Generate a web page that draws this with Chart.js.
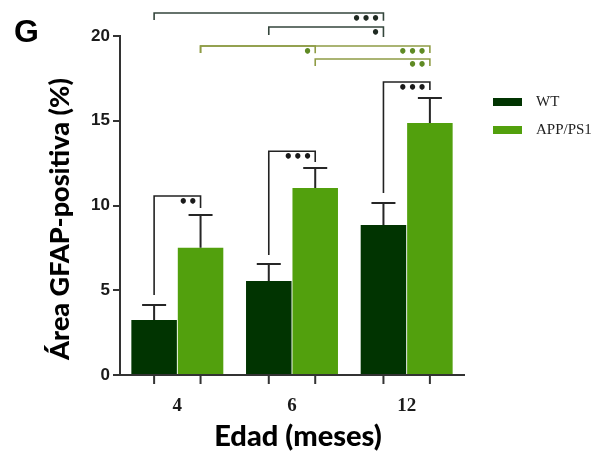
<!DOCTYPE html>
<html>
<head>
<meta charset="utf-8">
<script src="https://cdn.jsdelivr.net/npm/chart.js@4/dist/chart.umd.min.js"></script>
<style>
  html, body { margin: 0; padding: 0; background: #fff; }
  #wrap { width: 604px; height: 454px; position: relative; }
</style>
</head>
<body>
<div id="wrap"><canvas id="c" width="604" height="454"></canvas></div>
<script>
// Age groups (months)
const categories = ['4', '6', '12'];
const seriesNames = ['WT', 'APP/PS1'];
// GFAP-positive area (%), mean and SEM
const wtMean  = [3.24, 5.55, 8.85];
const wtSem   = [0.89, 1.00, 1.30];
const appMean = [7.51, 11.03, 14.87];
const appSem  = [1.93, 1.18, 1.47];
const yTicks  = [0, 5, 10, 15, 20];

// Significance comparisons: [dataset, index] pairs, bracket height and leg ends (data units)
const comparisons = [
  { a: [0, 0], b: [1, 0], y: 10.56, aEnd: 4.72,  bEnd: 9.85,  label: '••',  line: '#222', star: '#1a1a1a' },
  { a: [0, 1], b: [1, 1], y: 13.2,  aEnd: 7.08,  bEnd: 12.56, label: '•••', line: '#222', star: '#1a1a1a' },
  { a: [0, 2], b: [1, 2], y: 17.29, aEnd: 10.74, bEnd: 16.81, label: '•••', line: '#222', star: '#1a1a1a' },
  { a: [0, 0], b: [0, 2], y: 21.36, aEnd: 20.94, bEnd: 20.9,  label: '•••', line: '#34463c', star: '#1f2a22' },
  { a: [0, 1], b: [0, 2], y: 20.53, aEnd: 20.06, bEnd: 19.94, label: '•',   line: '#34463c', star: '#1f2a22' },
  { a: [1, 0], b: [1, 2], y: 19.41, aEnd: 19.0,  bEnd: 19.0,  label: '•••', line: '#8f9c45', star: '#5f8a24' },
  { a: [1, 0], b: [1, 1], y: 19.41, aEnd: 19.0,  bEnd: 18.98, label: '•',   line: '#8f9c45', star: '#5f8a24' },
  { a: [1, 1], b: [1, 2], y: 18.64, aEnd: 18.23, bEnd: 18.23, label: '••',  line: '#8f9c45', star: '#5f8a24' }
];

const barColors = ['#013401', '#52a00d'];
const means = [wtMean, appMean];
const sems = [wtSem, appSem];

const overlay = {
  id: 'overlay',
  afterDatasetsDraw(chart) {
    const ctx = chart.ctx;
    const ys = chart.scales.y;
    const area = chart.chartArea;
    ctx.save();

    // Error bars (upper whisker with cap)
    ctx.strokeStyle = '#262626';
    ctx.lineWidth = 2;
    means.forEach((m, di) => {
      const meta = chart.getDatasetMeta(di);
      meta.data.forEach((bar, i) => {
        const top = ys.getPixelForValue(m[i] + sems[di][i]);
        ctx.beginPath();
        ctx.moveTo(bar.x, bar.y);
        ctx.lineTo(bar.x, top);
        ctx.moveTo(bar.x - 12, top);
        ctx.lineTo(bar.x + 12, top);
        ctx.stroke();
      });
    });

    // Tick marks under each bar
    ctx.strokeStyle = '#333';
    ctx.lineWidth = 2;
    [0, 1].forEach(di => {
      chart.getDatasetMeta(di).data.forEach(bar => {
        ctx.beginPath();
        ctx.moveTo(bar.x, area.bottom);
        ctx.lineTo(bar.x, area.bottom + 9);
        ctx.stroke();
      });
    });

    // Significance brackets
    comparisons.forEach(c => {
      const xa = chart.getDatasetMeta(c.a[0]).data[c.a[1]].x;
      const xb = chart.getDatasetMeta(c.b[0]).data[c.b[1]].x;
      const yl = ys.getPixelForValue(c.y);
      ctx.strokeStyle = c.line;
      ctx.lineWidth = 1.6;
      ctx.beginPath();
      ctx.moveTo(xa, ys.getPixelForValue(c.aEnd));
      ctx.lineTo(xa, yl);
      ctx.lineTo(xb, yl);
      ctx.lineTo(xb, ys.getPixelForValue(c.bEnd));
      ctx.stroke();
      ctx.fillStyle = c.star;
      ctx.font = 'bold 15px "DejaVu Sans"';
      ctx.textAlign = 'right';
      ctx.textBaseline = 'middle';
      ctx.fillText(c.label, xb - 3, yl + 7);
    });
    ctx.restore();
  },
  afterDraw(chart) {
    const ctx = chart.ctx;
    ctx.save();
    // Panel letter
    ctx.fillStyle = '#000';
    ctx.font = 'bold 32px "Liberation Sans"';
    ctx.textAlign = 'left';
    ctx.textBaseline = 'alphabetic';
    ctx.fillText('G', 14, 42);

    // Axis titles
    ctx.font = '900 29px Lato';
    ctx.textAlign = 'center';
    ctx.fillText('Edad (meses)', 298, 446);
    ctx.translate(69, 219);
    ctx.rotate(-Math.PI / 2);
    ctx.font = '900 27px Lato';
    ctx.fillText('Área GFAP-positiva (%)', 0, 0);
    ctx.restore();

    // Legend
    ctx.save();
    ctx.font = '15px "Liberation Serif"';
    ctx.textAlign = 'left';
    ctx.textBaseline = 'middle';
    seriesNames.forEach((name, i) => {
      const cy = 102 + i * 28;
      ctx.fillStyle = barColors[i];
      ctx.fillRect(493, cy - 4, 29, 8);
      ctx.fillStyle = '#222';
      ctx.fillText(name, 536, cy);
    });
    ctx.restore();
  }
};

new Chart(document.getElementById('c'), {
  type: 'bar',
  data: {
    labels: categories,
    datasets: seriesNames.map((name, i) => ({
      label: name,
      data: means[i],
      backgroundColor: barColors[i],
      borderWidth: 0,
      categoryPercentage: 0.81,
      barPercentage: 0.98
    }))
  },
  options: {
    responsive: false,
    animation: false,
    devicePixelRatio: 1,
    layout: { padding: { left: 0, right: 140, top: 36, bottom: 0 } },
    plugins: { legend: { display: false }, tooltip: { enabled: false } },
    scales: {
      x: {
        grid: { display: false, drawTicks: false },
        border: { display: true, color: '#333', width: 2 },
        ticks: {
          color: '#1a1a1a',
          padding: 20,
          font: { family: '"Liberation Serif"', size: 19, weight: 'bold' }
        },
        afterFit(s) { s.height = 79; }
      },
      y: {
        min: 0,
        max: 20,
        afterBuildTicks(s) { s.ticks = yTicks.map(v => ({ value: v })); },
        grid: { drawOnChartArea: false, drawTicks: true, tickLength: 7, color: '#333', lineWidth: 2 },
        border: { display: true, color: '#333', width: 2 },
        ticks: {
          color: '#1a1a1a',
          padding: 3,
          font: { family: '"Liberation Sans"', size: 17, weight: 'bold' }
        },
        afterFit(s) { s.width = 120; }
      }
    }
  },
  plugins: [overlay]
});
</script>
</body>
</html>
